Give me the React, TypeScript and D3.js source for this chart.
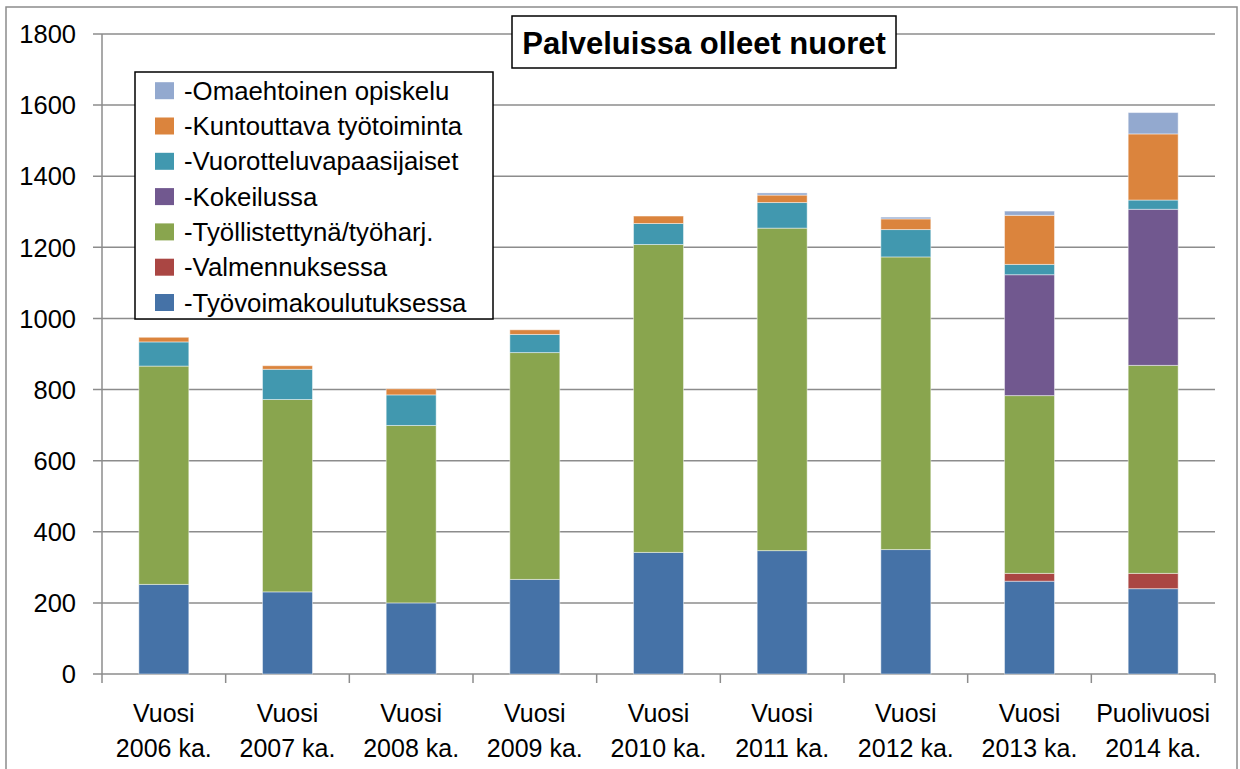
import React from "react";
import * as d3 from "d3";

const categories = [
  ["Vuosi", "2006 ka."],
  ["Vuosi", "2007 ka."],
  ["Vuosi", "2008 ka."],
  ["Vuosi", "2009 ka."],
  ["Vuosi", "2010 ka."],
  ["Vuosi", "2011 ka."],
  ["Vuosi", "2012 ka."],
  ["Vuosi", "2013 ka."],
  ["Puolivuosi", "2014 ka."],
];

// stacked bottom -> top
const seriesNames = [
  "-Työvoimakoulutuksessa",
  "-Valmennuksessa",
  "-Työllistettynä/työharj.",
  "-Kokeilussa",
  "-Vuorotteluvapaasijaiset",
  "-Kuntouttava työtoiminta",
  "-Omaehtoinen opiskelu",
];
const tyovoimakoulutuksessa = [252, 231, 200, 266, 342, 347, 350, 261, 240];
const valmennuksessa = [0, 0, 0, 0, 0, 0, 0, 22, 43];
const tyollistettyna = [614, 541, 499, 638, 866, 907, 823, 500, 585];
const kokeilussa = [0, 0, 0, 0, 0, 0, 0, 340, 439];
const vuorottelu = [68, 85, 86, 51, 59, 72, 77, 29, 26];
const kuntouttava = [13, 10, 17, 13, 21, 21, 30, 138, 186];
const omaehtoinen = [0, 0, 0, 0, 0, 6, 5, 12, 60];
const seriesColors = ["#4572A7", "#AA4643", "#89A54E", "#71588F", "#4198AF", "#DB843D", "#93A9CF"];
const yTicks = [0, 200, 400, 600, 800, 1000, 1200, 1400, 1600, 1800];
const title = "Palveluissa olleet nuoret";

const FONT = "'Liberation Sans', Arial, sans-serif";

export default function App() {
  const seriesValues = [tyovoimakoulutuksessa, valmennuksessa, tyollistettyna, kokeilussa, vuorottelu, kuntouttava, omaehtoinen];
  const keys = categories.map((c) => c.join(" "));
  const rows = keys.map((k, i) => {
    const r: any = { key: k };
    seriesNames.forEach((s, j) => (r[s] = seriesValues[j][i]));
    return r;
  });
  const stacked = d3.stack().keys(seriesNames)(rows as any);

  const x = d3.scaleBand().domain(keys).range([102, 1215]).paddingInner(0.596).paddingOuter(0.298);
  const y = d3.scaleLinear().domain([0, 1800]).range([674, 34]);
  const step = x.step();
  const left = 102, right = 1215;

  const legendOrder = [...seriesNames.keys()].reverse();

  return (
    <svg width={1240} height={769} style={{ position: "absolute", left: 0, top: 0, background: "#fff" }} fontFamily={FONT}>
      <rect x={6} y={7} width={1231} height={780} fill="#fff" stroke="#8c8c8c" strokeWidth={1.5} />
      {/* gridlines + y ticks */}
      {yTicks.map((t) => (
        <g key={t}>
          <line x1={93} x2={right} y1={y(t)} y2={y(t)} stroke="#8c8c8c" strokeWidth={1.5} />
          <text x={76} y={y(t)} dy="0.36em" textAnchor="end" fontSize={25.5} fill="#000">{t}</text>
        </g>
      ))}
      {/* axes */}
      <line x1={left} x2={left} y1={y(1800)} y2={683} stroke="#8c8c8c" strokeWidth={1.5} />
      {keys.map((k, i) => (
        <line key={k} x1={left + step * (i + 1)} x2={left + step * (i + 1)} y1={674} y2={683} stroke="#8c8c8c" strokeWidth={1.5} />
      ))}
      {/* bars */}
      {stacked.map((s, si) => (
        <g key={s.key} fill={seriesColors[si]}>
          {s.map((d, i) =>
            d[1] - d[0] > 0 ? (
              <rect key={i} x={x(keys[i])} width={x.bandwidth()} y={y(d[1])} height={y(d[0]) - y(d[1])} stroke="#ffffff" strokeOpacity={0.45} strokeWidth={1} />
            ) : null
          )}
        </g>
      ))}
      {/* x labels */}
      {categories.map((c, i) => {
        const cx = (x(keys[i]) as number) + x.bandwidth() / 2;
        return (
          <g key={i}>
            <text x={cx} y={722} textAnchor="middle" fontSize={25}>{c[0]}</text>
            <text x={cx} y={757} textAnchor="middle" fontSize={25}>{c[1]}</text>
          </g>
        );
      })}
      {/* title */}
      <rect x={512} y={16} width={384} height={52} fill="#fff" stroke="#000" strokeWidth={1.5} />
      <text x={704} y={54} textAnchor="middle" fontSize={31} fontWeight="bold">{title}</text>
      {/* legend */}
      <rect x={135} y={72} width={358} height={247} fill="#fff" stroke="#000" strokeWidth={1.5} />
      {legendOrder.map((si, r) => {
        const cy = 90.7 + r * 35.3;
        return (
          <g key={si}>
            <rect x={155} y={cy - 8.5} width={19} height={17} fill={seriesColors[si]} />
            <text x={184} y={cy + 9} fontSize={25.8}>{seriesNames[si]}</text>
          </g>
        );
      })}
    </svg>
  );
}
